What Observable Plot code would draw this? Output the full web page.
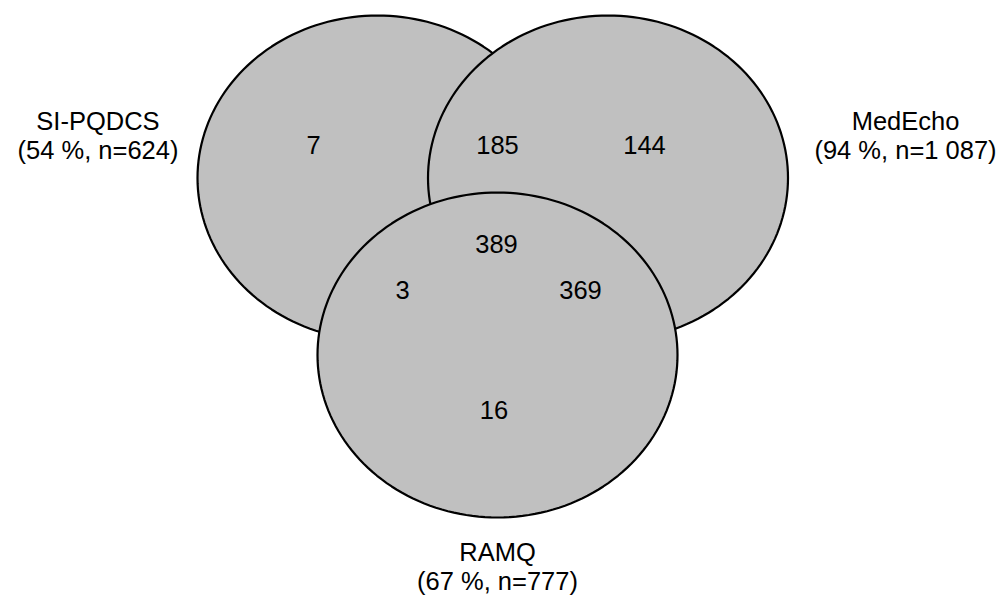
<!DOCTYPE html>
<html><head><meta charset="utf-8">
<script src="https://cdn.jsdelivr.net/npm/d3@7"></script>
<script src="https://cdn.jsdelivr.net/npm/@observablehq/plot@0.6"></script>
<style>html,body{margin:0;padding:0;background:#fff;overflow:hidden}</style>
</head><body><div id="chart"></div>
<script>
// ---- data ----
const sets = ["SI-PQDCS", "MedEcho", "RAMQ"];
const setShares = ["54 %", "94 %", "67 %"];
const setTotals = ["624", "1 087", "777"];
const regionKeys = ["SI-PQDCS only", "SI-PQDCS & MedEcho", "MedEcho only", "all three", "SI-PQDCS & RAMQ", "MedEcho & RAMQ", "RAMQ only"];
const regionCounts = [7, 185, 144, 389, 3, 369, 16];

// ---- layout (chart units) ----
const W = 1002, H = 596;
const circleCenters = {"SI-PQDCS": [377, 177.5], "MedEcho": [607.5, 177.5], "RAMQ": [497, 354.5]};
const RX = 180, RY = 162.5;
const setLabelAt = {"SI-PQDCS": [97.5, 158], "MedEcho": [905, 158], "RAMQ": [497, 589]};
const lineGap = 28.5;
const regionLabelAt = [[313, 153], [497, 153], [644, 153], [496, 252], [402, 298], [580, 298], [493.5, 418]];

// outline of each set as a closed ellipse path
const outlines = sets.flatMap(s => {
  const [cx, cy] = circleCenters[s];
  return d3.range(0, 360, 2).map(a => ({set: s, x: cx + RX * Math.cos(a * Math.PI / 180), y: cy + RY * Math.sin(a * Math.PI / 180)}));
});
const setNameLabels = sets.map(s => ({text: s, x: setLabelAt[s][0], y: setLabelAt[s][1] - lineGap}));
const setStatLabels = sets.map((s, i) => ({text: `(${setShares[i]}, n=${setTotals[i]})`, x: setLabelAt[s][0], y: setLabelAt[s][1]}));
const regionLabels = regionKeys.map((k, i) => ({text: String(regionCounts[i]), x: regionLabelAt[i][0], y: regionLabelAt[i][1]}));

const font = "Liberation Sans, Arial, Helvetica, sans-serif";
const textOpts = {x: "x", y: "y", text: "text", fontSize: 25.5, fontFamily: font, fill: "#000", lineAnchor: "bottom"};
const chart = Plot.plot({
  width: W, height: H,
  margin: 0,
  x: {domain: [0, W], range: [0, W], axis: null},
  y: {domain: [0, H], range: [0, H], axis: null},
  style: {background: "#fff", fontFamily: font},
  marks: [
    Plot.line(outlines, {x: "x", y: "y", z: "set", curve: "linear-closed", fill: "#c0c0c0", stroke: "#000", strokeWidth: 2.2}),
    Plot.text(regionLabels, textOpts),
    Plot.text(setNameLabels, textOpts),
    Plot.text(setStatLabels, textOpts)
  ]
});
document.getElementById("chart").append(chart);
</script>
</body></html>
